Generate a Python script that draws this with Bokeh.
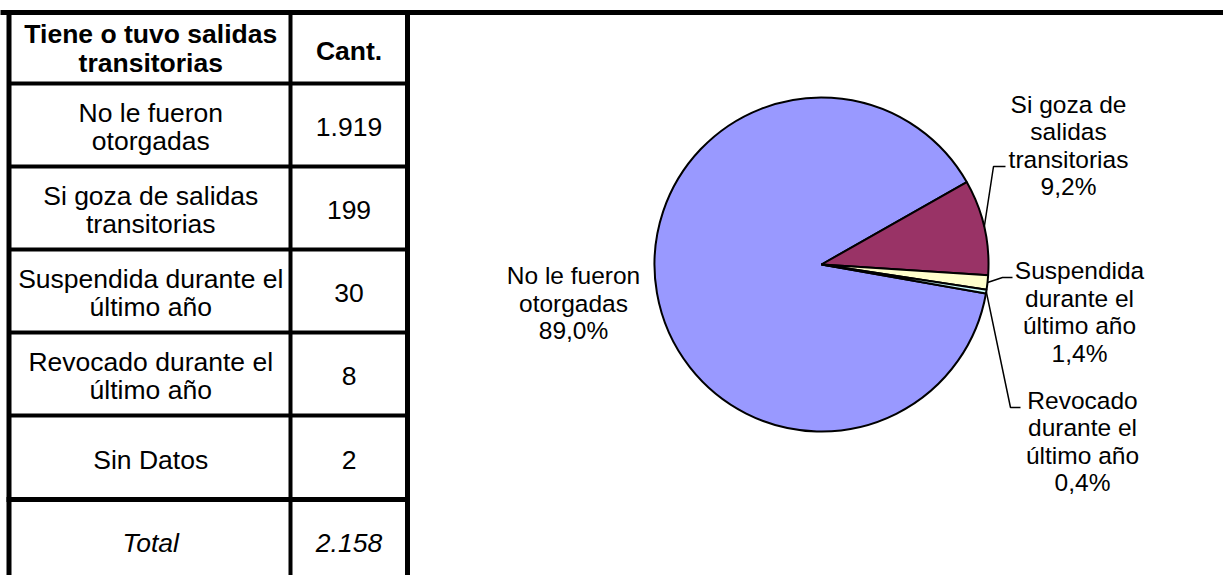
import math
from bokeh.plotting import figure
from bokeh.models import Range1d, ColumnDataSource
from bokeh.embed import file_html
from bokeh.resources import INLINE
from bokeh.core.properties import value

# ---------------- data ----------------
table_header = ["Tiene o tuvo salidas", "transitorias"]
count_header = "Cant."
categories = ["No le fueron otorgadas", "Si goza de salidas transitorias",
              "Suspendida durante el último año", "Revocado durante el último año",
              "Sin Datos"]
table_label_lines = [["No le fueron", "otorgadas"],
                     ["Si goza de salidas", "transitorias"],
                     ["Suspendida durante el", "último año"],
                     ["Revocado durante el", "último año"],
                     ["Sin Datos"]]
counts = [1919, 199, 30, 8, 2]
total_label = "Total"
total_count = 2158

pie_values = [1919, 199, 30, 8]
pie_label_lines = [["No le fueron", "otorgadas"],
                   ["Si goza de", "salidas", "transitorias"],
                   ["Suspendida", "durante el", "último año"],
                   ["Revocado", "durante el", "último año"]]
pie_colors = ["#9999FF", "#993366", "#FFFFCC", "#CCFFFF"]
first_slice_angle = 100  # degrees clockwise from 12 o'clock

FONT = "Liberation Sans"


def fmt_int(n):
    return f"{n:,}".replace(",", ".")


def fmt_pct(f):
    return f"{f * 100:.1f}%".replace(".", ",")


# ---------------- figure ----------------
W, H = 1223, 575
p = figure(width=W, height=H, x_range=Range1d(0, W), y_range=Range1d(-H, 0),
           output_backend="svg", toolbar_location=None, min_border=0,
           x_axis_type=None, y_axis_type=None)
p.grid.visible = False
p.outline_line_color = None
p.background_fill_color = "white"
p.border_fill_color = "white"


def Y(y):
    return -y


# ---------------- table ----------------
col_left, col_mid, col_right = 8.5, 290, 407
row_top = 12
row_lines = [83, 166, 249, 332, 415, 499]
row_bottom = 600
lw_thin = 4
lw_thick = 5

seg = dict(x0=[], y0=[], x1=[], y1=[], w=[])


def add_seg(x0, y0, x1, y1, w):
    seg["x0"].append(x0); seg["y0"].append(Y(y0))
    seg["x1"].append(x1); seg["y1"].append(Y(y1)); seg["w"].append(w)


add_seg(0, row_top, 1240, row_top, 5)
add_seg(col_left, row_top, col_left, row_bottom, lw_thick)
add_seg(col_mid, row_top, col_mid, row_bottom, lw_thin)
add_seg(col_right, row_top, col_right, row_bottom, lw_thick)
for i, ry in enumerate(row_lines):
    add_seg(col_left, ry, col_right, ry, lw_thick if i == len(row_lines) - 1 else lw_thin)
p.segment(x0="x0", y0="y0", x1="x1", y1="y1", line_width="w", line_color="black",
          line_cap="square", source=ColumnDataSource(seg))

c1x = (col_left + col_mid) / 2 + 1
c2x = (col_mid + col_right) / 2
LH_T = 28.5
TFS = "26.5px"

# header
hdr_cy = (row_top + row_lines[0]) / 2 + 0.5
hx, hy, ht = [], [], []
for j, line in enumerate(table_header):
    hx.append(c1x); hy.append(Y(hdr_cy + (j - (len(table_header) - 1) / 2) * LH_T)); ht.append(line)
hx.append(c2x); hy.append(Y(hdr_cy + 2)); ht.append(count_header)
p.text(x=hx, y=hy, text=ht, text_font=value(FONT), text_font_size=TFS,
       text_font_style="bold", text_align="center", text_baseline="middle", text_color="black")

# body rows
bx, by, bt = [], [], []
bounds = row_lines
for i, lines in enumerate(table_label_lines):
    cy = (bounds[i] + bounds[i + 1]) / 2 + 2
    for j, line in enumerate(lines):
        bx.append(c1x); by.append(Y(cy + (j - (len(lines) - 1) / 2) * LH_T)); bt.append(line)
    bx.append(c2x); by.append(Y(cy)); bt.append(fmt_int(counts[i]))
p.text(x=bx, y=by, text=bt, text_font=value(FONT), text_font_size=TFS,
       text_align="center", text_baseline="middle", text_color="black")

# total row
tot_cy = 542
p.text(x=[c1x, c2x], y=[Y(tot_cy), Y(tot_cy)], text=[total_label, fmt_int(total_count)],
       text_font=value(FONT), text_font_size=TFS, text_font_style="italic",
       text_align="center", text_baseline="middle", text_color="black")

# ---------------- pie ----------------
pcx, pcy, R = 821, 264, 167
tot = sum(pie_values)
starts, ends, mids = [], [], []
cum = first_slice_angle
for v in pie_values:
    d = v / tot * 360
    c0, c1 = cum, cum + d
    starts.append(math.radians(90 - c1))
    ends.append(math.radians(90 - c0))
    mids.append((c0 + c1) / 2)
    cum = c1

p.wedge(x=pcx, y=Y(pcy), radius=R, start_angle=starts, end_angle=ends,
        direction="anticlock", fill_color=pie_colors, line_color="black", line_width=2)

# labels: centre x, centre y of block, leader elbow points (None = no leader)
label_pos = [(573, 302.5), (1068, 145), (1079, 311.5), (1082, 441)]
leader_elbows = [None,
                 [(993, 166), (1005, 166)],
                 [(1002, 277), (1012, 277)],
                 [(1010, 407), (1020, 407)]]
LH_P = 27.5
lx, ly, lt = [], [], []
for i, lines in enumerate(pie_label_lines):
    full = lines + [fmt_pct(pie_values[i] / tot)]
    cx, cy = label_pos[i]
    for j, line in enumerate(full):
        lx.append(cx); ly.append(Y(cy + (j - (len(full) - 1) / 2) * LH_P)); lt.append(line)
p.text(x=lx, y=ly, text=lt, text_font=value(FONT), text_font_size="24.5px",
       text_align="center", text_baseline="middle", text_color="black")

mxs, mys = [], []
for i, el in enumerate(leader_elbows):
    if el is None:
        continue
    a = math.radians(mids[i])
    ex, ey = pcx + R * math.sin(a), pcy - R * math.cos(a)
    xs = [ex] + [e[0] for e in el]
    ys = [Y(ey)] + [Y(e[1]) for e in el]
    mxs.append(xs); mys.append(ys)
p.multi_line(xs=mxs, ys=mys, line_color="black", line_width=1.5)

open("out.html", "w").write(file_html(p, INLINE))
